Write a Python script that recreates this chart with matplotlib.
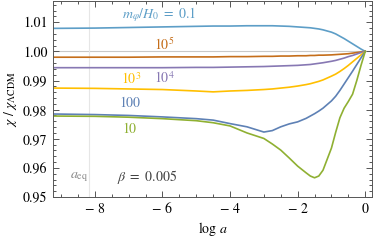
import matplotlib
matplotlib.use('Agg')
import matplotlib.pyplot as plt
from matplotlib.ticker import MultipleLocator, FuncFormatter

# log a sample points shared by all curves
log_a = [-9.24, -8, -7, -6, -5, -4.5, -4, -3.5, -3, -2.75, -2.5, -2.25, -2, -1.75,
         -1.625, -1.5, -1.375, -1.25, -1, -0.875, -0.75, -0.625, -0.5, -0.375,
         -0.25, -0.125, 0]

# chi / chi_LCDM for each m_phi / H_0
m01 = [1.0079, 1.0080, 1.0082, 1.0084, 1.0086, 1.0087, 1.0087, 1.0088, 1.0088, 1.0088,
       1.0087, 1.0086, 1.0084, 1.0082, 1.0081, 1.0079, 1.0077, 1.0074, 1.0066, 1.0060,
       1.0052, 1.0044, 1.0035, 1.0026, 1.0017, 1.0008, 1.0]
m1e5 = [0.9980, 0.9980, 0.9980, 0.9981, 0.9981, 0.9981, 0.9982, 0.9982, 0.9983, 0.9983,
        0.9984, 0.9984, 0.9985, 0.9985, 0.9986, 0.9986, 0.9987, 0.9987, 0.9988, 0.9989,
        0.9990, 0.9991, 0.9992, 0.9994, 0.9996, 0.9998, 1.0]
m1e4 = [0.9944, 0.9944, 0.9944, 0.9944, 0.9945, 0.9945, 0.9946, 0.9947, 0.9948, 0.9949,
        0.9950, 0.9951, 0.9952, 0.9954, 0.9955, 0.9957, 0.9959, 0.9961, 0.9966, 0.9969,
        0.9973, 0.9977, 0.9982, 0.9986, 0.9991, 0.9996, 1.0]
m1e3 = [0.9874, 0.9873, 0.9871, 0.9869, 0.9864, 0.9861, 0.9864, 0.9866, 0.9869, 0.9871,
        0.9874, 0.9877, 0.9881, 0.9886, 0.9889, 0.9893, 0.9897, 0.9902, 0.9915, 0.9922,
        0.9931, 0.9941, 0.9952, 0.9964, 0.9976, 0.9988, 1.0]
m100 = [0.9785, 0.9783, 0.9780, 0.9775, 0.9769, 0.9764, 0.9752, 0.9741, 0.9723, 0.9728,
        0.9741, 0.9751, 0.9758, 0.9770, 0.9778, 0.9786, 0.9795, 0.9805, 0.9830, 0.9846,
        0.9866, 0.9888, 0.9910, 0.9932, 0.9955, 0.9978, 1.0]
m10 = [0.9778, 0.9777, 0.9774, 0.9769, 0.9762, 0.9755, 0.9744, 0.9720, 0.9701, 0.9682,
       0.9661, 0.9634, 0.9606, 0.9583, 0.9572, 0.9566, 0.9572, 0.9592, 0.9668, 0.9722,
       0.9772, 0.9805, 0.9828, 0.9853, 0.9900, 0.9952, 1.0]

curves = [m01, m1e5, m1e4, m1e3, m100, m10]
colors = ['#5D9EC7', '#C56E1A', '#8778B3', '#FFBF00', '#5E81B5', '#8FB032']
labels = [r'$m_\varphi/H_0\ =\ 0.1$', r'$10^5$', r'$10^4$', r'$10^3$', '100', '10']
label_pos = [(-6.1, 1.0125), (-5.94, 1.0022), (-5.94, 0.9909), (-6.94, 0.9905),
             (-6.97, 0.9820), (-6.97, 0.9734)]

a_eq = -8.18

plt.rcParams['font.family'] = 'STIXGeneral'
plt.rcParams['mathtext.fontset'] = 'stix'

fig = plt.figure(figsize=(3.74, 2.41), dpi=100)
ax = fig.add_axes([53/374, 1 - 197/241, (372 - 53)/374, 196/241])

ax.axhline(1.0, color='#c8c8c8', lw=0.8, zorder=1)
ax.axvline(a_eq, color='#e6e6e6', lw=0.8, zorder=1)

for y, c in zip(curves, colors):
    ax.plot(log_a, y, color=c, lw=1.2, zorder=2)

for (tx, ty), t, c in zip(label_pos, labels, colors):
    ax.text(tx, ty, t, color=c, fontsize=10, ha='center', va='center')

ax.text(-8.47, 0.9569, r'$a_{\rm eq}$', color='#888888', fontsize=10, ha='center', va='center')
ax.text(-6.47, 0.9569, r'$\beta\ =\ 0.005$', color='#444444', fontsize=10, ha='center', va='center')

ax.set_xlim(-9.24, 0.2)
ax.set_ylim(0.95, 1.0173)
ax.xaxis.set_major_locator(MultipleLocator(2))
ax.xaxis.set_minor_locator(MultipleLocator(0.5))
ax.yaxis.set_major_locator(MultipleLocator(0.01))
ax.yaxis.set_minor_locator(MultipleLocator(0.002))
ax.xaxis.set_major_formatter(FuncFormatter(lambda v, p: '0' if v == 0 else '\u2212 %d' % abs(v)))
ax.yaxis.set_major_formatter(FuncFormatter(lambda v, p: '%.2f' % v))

ax.tick_params(which='both', direction='in', top=True, right=True, colors='#555555',
               labelcolor='black', labelsize=10, width=0.7)
ax.tick_params(which='major', length=4, pad=4)
ax.tick_params(which='minor', length=2)
for s in ax.spines.values():
    s.set_color('#555555')
    s.set_linewidth(0.7)

ax.set_xlabel(r'$\log\,a$', fontsize=10, labelpad=3)
ax.set_ylabel(r'$\chi\ /\ \chi_{\Lambda\mathrm{CDM}}$', fontsize=10, labelpad=3)

fig.savefig('out.png', dpi=100)
